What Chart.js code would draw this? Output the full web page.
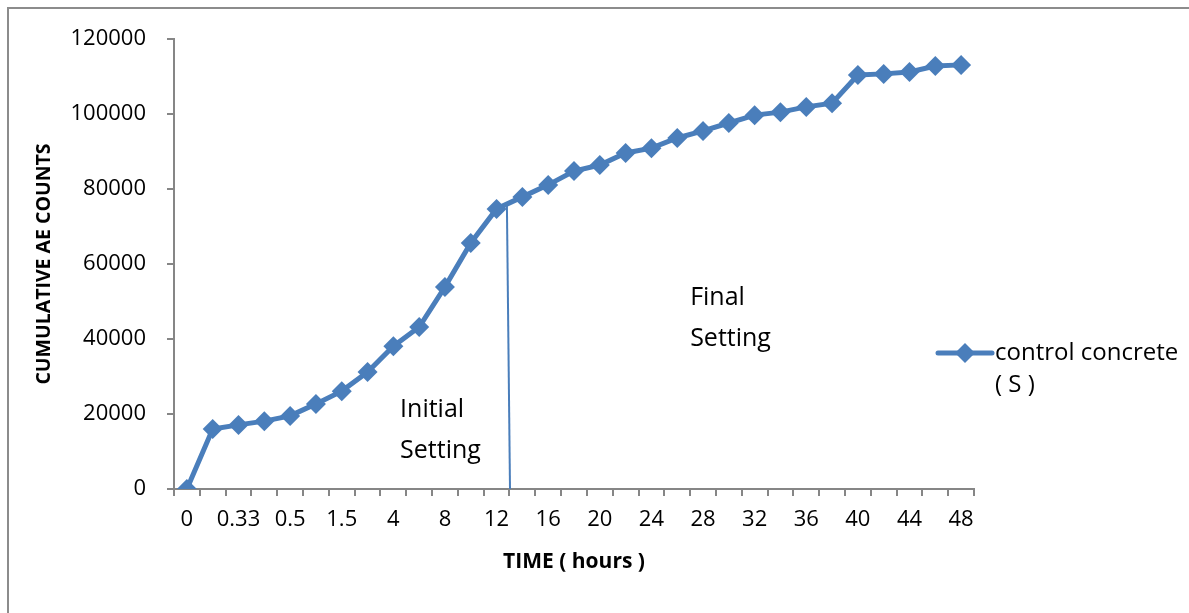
<!DOCTYPE html>
<html>
<head>
<meta charset="utf-8">
<script src="https://cdn.jsdelivr.net/npm/chart.js@4.4.1/dist/chart.umd.min.js"></script>
<style>
    html, body { margin: 0; padding: 0; background: #fff; }
    #wrap { width: 1189px; height: 613px; }
</style>
</head>
<body>
<div id="wrap"><canvas id="aeChart" width="1189" height="613"></canvas></div>
<script>
// time in hours (only every other one is printed on the axis)
const timeLabels = [
    "0", "0.17", "0.33", "0.42", "0.5", "1", "1.5", "3", "4", "6", "8", "10",
    "12", "14", "16", "18", "20", "22", "24", "26", "28", "30", "32", "34",
    "36", "38", "40", "42", "44", "46", "48"
];
// cumulative AE counts for the control mix
const aeCounts = [
    0, 16000, 17100, 18100, 19500, 22700, 26100, 31200, 38100, 43200, 53900, 65600,
    74700, 77900, 81100, 84800, 86400, 89600, 90900, 93600, 95500, 97600, 99700, 100500,
    101900, 102900, 110400, 110700, 111200, 112800, 113100
];
const yTicks = [0, 20000, 40000, 60000, 80000, 100000, 120000];

// boundary between initial and final setting (category index, count)
const settingLine = [{ x: 12.4, y: 75700 }, { x: 12.52, y: 0 }];
// text notes anchored in data space
const notes = [
    { lines: ["Initial", "Setting"], x: 8.26, y: 21000 },
    { lines: ["Final", "Setting"], x: 19.5, y: 51000 }
];

const blue = "#4a7ebb";
const axisGray = "#868686";
const font = "'Open Sans', Lato, sans-serif";

const extras = {
    id: "extras",
    beforeDraw(chart) {
        const c = chart.ctx;
        c.save();
        c.strokeStyle = "#8c8c8c";
        c.lineWidth = 2;
        c.beginPath();
        c.moveTo(8, chart.height);
        c.lineTo(8, 8);
        c.lineTo(chart.width, 8);
        c.stroke();
        c.restore();
    },
    beforeDatasetsDraw(chart) {
        const c = chart.ctx;
        const xs = chart.scales.x, ys = chart.scales.y;
        c.save();
        c.strokeStyle = blue;
        c.lineWidth = 2;
        c.beginPath();
        c.moveTo(xs.getPixelForValue(settingLine[0].x), ys.getPixelForValue(settingLine[0].y));
        c.lineTo(xs.getPixelForValue(settingLine[1].x), ys.getPixelForValue(settingLine[1].y));
        c.stroke();
        c.restore();
    },
    afterDraw(chart) {
        const c = chart.ctx;
        const xs = chart.scales.x, ys = chart.scales.y;
        c.save();
        c.fillStyle = "#000";
        c.font = "25px " + font;
        c.textBaseline = "middle";
        c.textAlign = "left";
        notes.forEach(n => {
            const px = xs.getPixelForValue(n.x);
            const py = ys.getPixelForValue(n.y);
            n.lines.forEach((t, i) => c.fillText(t, px, py + i * 41));
        });

        // legend on the right
        const lx = 938, ly = 353;
        c.strokeStyle = blue;
        c.lineWidth = 5;
        c.lineCap = "round";
        c.beginPath();
        c.moveTo(lx, ly);
        c.lineTo(lx + 54, ly);
        c.stroke();
        c.fillStyle = blue;
        c.beginPath();
        c.moveTo(lx + 27 - 10, ly);
        c.lineTo(lx + 27, ly - 10);
        c.lineTo(lx + 27 + 10, ly);
        c.lineTo(lx + 27, ly + 10);
        c.closePath();
        c.fill();
        c.fillStyle = "#000";
        c.font = "24px " + font;
        c.fillText("control concrete", lx + 57, ly);
        c.fillText("( S )", lx + 57, ly + 32);
        c.restore();
    }
};

const ctx = document.getElementById("aeChart").getContext("2d");

let aeChart = new Chart(ctx, {
    type: "line",
    data: {
        labels: timeLabels,
        datasets: [{
            label: "control concrete ( S )",
            data: aeCounts,
            borderColor: blue,
            backgroundColor: blue,
            borderWidth: 5,
            tension: 0,
            pointStyle: "rectRot",
            pointRadius: 10,
            pointBorderWidth: 0,
            pointBackgroundColor: blue
        }]
    },
    options: {
        responsive: false,
        animation: false,
        layout: { padding: { top: 39, right: 215, bottom: 36, left: 0 } },
        plugins: {
            legend: { display: false },
            tooltip: { enabled: false }
        },
        scales: {
            x: {
                type: "category",
                offset: true,
                grid: {
                    offset: true,
                    drawOnChartArea: false,
                    tickLength: 7,
                    color: axisGray,
                    lineWidth: 2
                },
                border: { color: axisGray, width: 2 },
                ticks: {
                    autoSkip: false,
                    maxRotation: 0,
                    minRotation: 0,
                    padding: 11,
                    color: "#000",
                    font: { family: font, size: 22 },
                    callback: function (val, i) {
                        return i % 2 === 0 ? timeLabels[i] : "";
                    }
                },
                title: {
                    display: true,
                    text: "TIME ( hours )",
                    color: "#000",
                    font: { family: font, size: 21, weight: "bold" },
                    padding: { top: 0, bottom: 2 }
                },
                afterFit: function (scale) { scale.height = 88; }
            },
            y: {
                min: 0,
                max: 120000,
                afterBuildTicks: function (scale) {
                    scale.ticks = yTicks.map(v => ({ value: v }));
                },
                grid: {
                    drawOnChartArea: false,
                    tickLength: 7,
                    color: axisGray,
                    lineWidth: 2
                },
                border: { color: axisGray, width: 2 },
                ticks: {
                    padding: 21,
                    color: "#000",
                    font: { family: font, size: 22 },
                    callback: function (val) { return String(val); }
                },
                title: {
                    display: true,
                    text: "CUMULATIVE AE COUNTS",
                    color: "#000",
                    font: { family: font, size: 19.5, weight: "bold" },
                    padding: { top: 33, bottom: 0 }
                },
                afterFit: function (scale) { scale.width = 174; }
            }
        }
    },
    plugins: [extras]
});
</script>
</body>
</html>
